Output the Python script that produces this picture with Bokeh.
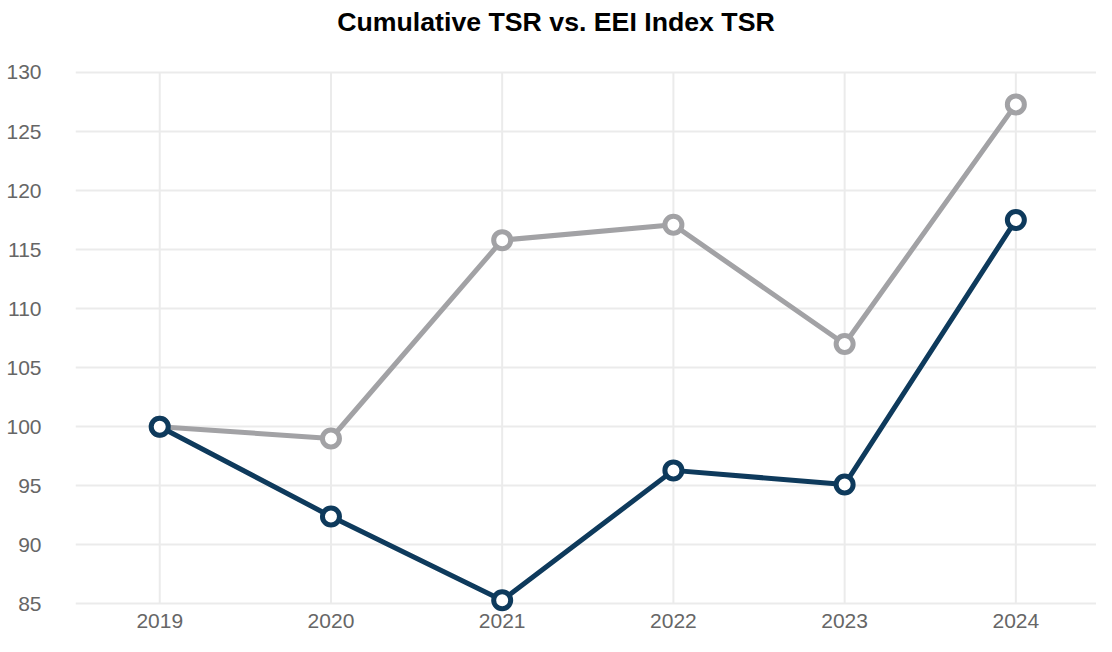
from bokeh.plotting import figure
from bokeh.models import FixedTicker, Range1d, Label
from bokeh.embed import file_html
from bokeh.resources import INLINE

years = [2019, 2020, 2021, 2022, 2023, 2024]
eei_tsr = [100.0, 99.0, 115.8, 117.1, 107.0, 127.3]
company_tsr = [100.0, 92.4, 85.3, 96.3, 95.1, 117.5]
y_ticks = [85, 90, 95, 100, 105, 110, 115, 120, 125, 130]
title_text = "Cumulative TSR vs. EEI Index TSR"

GRAY = "#A2A2A5"
NAVY = "#0E3A5C"
GRID = "#EBEBEB"
FONT = "Liberation Sans"

W, H = 1096, 636
LEFT, BOTTOM = 75, 24
X0, X1 = 2018.508, 2024.471
Y0, Y1 = 84.263, 136.098

p = figure(width=W, height=H, output_backend="svg", toolbar_location=None,
           x_range=Range1d(X0, X1), y_range=Range1d(Y0, Y1),
           min_border_left=LEFT, min_border_right=0, min_border_top=0,
           min_border_bottom=BOTTOM)
p.title.visible = False

p.outline_line_color = None
p.background_fill_color = "white"
p.border_fill_color = "white"

for ax in (p.xaxis, p.yaxis):
    ax.axis_line_color = None
    ax.major_tick_line_color = None
    ax.minor_tick_line_color = None
    ax.major_tick_out = 0
    ax.major_tick_in = 0
    ax.minor_tick_out = 0
    ax.minor_tick_in = 0
    ax.major_label_text_font = FONT
    ax.major_label_text_font_size = "21px"
    ax.major_label_text_color = "#666666"

p.xaxis.ticker = FixedTicker(ticks=years)
p.yaxis.ticker = FixedTicker(ticks=y_ticks)
p.xaxis.major_label_standoff = 1
p.yaxis.major_label_standoff = 34

# horizontal grid through the library's grid; vertical grid only spans 85..130
p.xgrid.visible = False
p.ygrid.ticker = FixedTicker(ticks=y_ticks)
p.ygrid.grid_line_color = GRID
p.ygrid.grid_line_width = 2
p.segment(x0=years, y0=[y_ticks[0]] * len(years), x1=years, y1=[y_ticks[-1]] * len(years),
          line_color=GRID, line_width=2)

p.line(years, eei_tsr, line_color=GRAY, line_width=5)
p.scatter(years, eei_tsr, marker="circle", size=17, fill_color="white",
          line_color=GRAY, line_width=5)

p.line(years, company_tsr, line_color=NAVY, line_width=5)
p.scatter(years, company_tsr, marker="circle", size=17, fill_color="white",
          line_color=NAVY, line_width=5)

# Title as a label inside the (tall) frame, centred on the canvas
px_per_x = (W - LEFT) / (X1 - X0)
px_per_y = (H - BOTTOM) / (Y1 - Y0)
title_x = X0 + (555.5 - LEFT) / px_per_x
title_y = Y1 - 21.2 / px_per_y
p.add_layout(Label(x=title_x, y=title_y, text=title_text,
                   text_align="center", text_baseline="alphabetic",
                   text_font=FONT, text_font_size="26.7px",
                   text_font_style="bold", text_color="#000000"))

open("out.html", "w").write(file_html(p, INLINE))
